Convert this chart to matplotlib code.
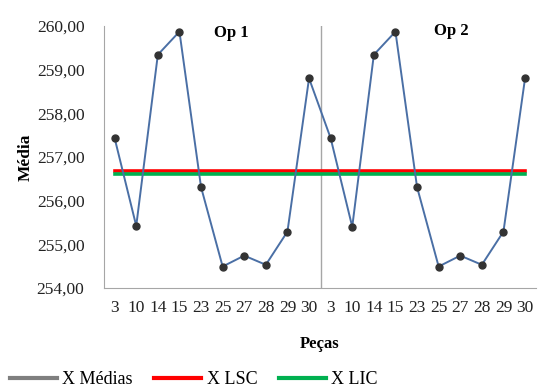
import matplotlib.pyplot as plt
from matplotlib.lines import Line2D
from matplotlib.ticker import FuncFormatter

pecas = ['3', '10', '14', '15', '23', '25', '27', '28', '29', '30',
         '3', '10', '14', '15', '23', '25', '27', '28', '29', '30']
medias = [257.43, 255.42, 259.34, 259.87, 256.31, 254.49, 254.74, 254.53, 255.29, 258.80,
          257.43, 255.40, 259.34, 259.87, 256.31, 254.49, 254.74, 254.53, 255.29, 258.80]
lsc = [256.68] * len(pecas)
lic = [256.62] * len(pecas)
operadores = ['Op 1', 'Op 2']

plt.rcParams['font.family'] = 'Liberation Serif'

fig = plt.figure(figsize=(5.38, 3.87), dpi=100)
ax = fig.add_axes([0.193, 0.256, 0.803, 0.677])

x = list(range(len(pecas)))
ax.plot(x, lsc, color='#ff0000', lw=2.6, zorder=2, solid_capstyle='projecting')
ax.plot(x, lic, color='#00b050', lw=2.6, zorder=3, solid_capstyle='projecting')
ax.plot(x, medias, color='#4a6fa5', lw=1.4, marker='o', ms=5,
        mfc='#333333', mec='#333333', zorder=4)

# separador entre operadores
ax.axvline(9.55, color='#a6a6a6', lw=1, zorder=1)
ax.text(5.4, 259.75, operadores[0], fontsize=12, fontweight='bold', ha='center')
ax.text(15.6, 259.8, operadores[1], fontsize=12, fontweight='bold', ha='center')

ax.set_xlim(-0.5, len(pecas) - 0.5)
ax.set_ylim(254, 260)
ax.set_yticks([254, 255, 256, 257, 258, 259, 260])
ax.yaxis.set_major_formatter(FuncFormatter(lambda v, p: f'{v:.2f}'.replace('.', ',')))
ax.set_xticks(x)
ax.set_xticklabels(pecas)
ax.tick_params(axis='both', length=0, labelsize=12.5, colors='#222222')
ax.tick_params(axis='y', pad=14)
ax.tick_params(axis='x', pad=9)

for s in ['top', 'right']:
    ax.spines[s].set_visible(False)
for s in ['left', 'bottom']:
    ax.spines[s].set_color('#a6a6a6')

ax.set_ylabel('Média', fontsize=12.5, fontweight='bold', labelpad=2)
ax.set_xlabel('Peças', fontsize=12, fontweight='bold', labelpad=14)

handles = [Line2D([], [], color='#7f7f7f', lw=3),
           Line2D([], [], color='#ff0000', lw=3),
           Line2D([], [], color='#00b050', lw=3)]
fig.legend(handles, ['X Médias', 'X LSC', 'X LIC'], loc='lower center',
           bbox_to_anchor=(0.36, -0.045), ncol=3, frameon=False, fontsize=13,
           handlelength=2.6, handletextpad=0.3, columnspacing=1.2)

fig.savefig('out.png', dpi=100)
